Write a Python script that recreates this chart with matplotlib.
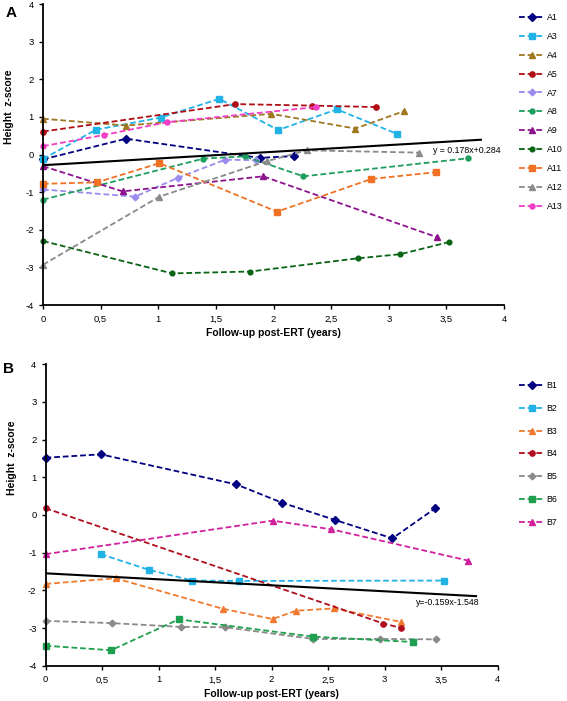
import matplotlib
matplotlib.use("Agg")
import matplotlib.pyplot as plt
import numpy as np

plt.rcParams['font.family'] = ['Liberation Sans', 'DejaVu Sans']

# ---------------- Panel A data ----------------
a_names = ["A1", "A3", "A4", "A5", "A7", "A8", "A9", "A10", "A11", "A12", "A13"]
a1_x = [0, 0.72, 1.88, 2.18];                 a1_y = [-0.13, 0.42, -0.09, -0.04]
a3_x = [0, 0.46, 1.02, 1.53, 2.04, 2.55, 3.07]; a3_y = [-0.12, 0.66, 0.98, 1.48, 0.65, 1.20, 0.55]
a4_x = [0, 0.72, 1.98, 2.71, 3.13];           a4_y = [0.95, 0.77, 1.08, 0.69, 1.15]
a5_x = [0, 1.67, 2.33, 2.89];                 a5_y = [0.61, 1.34, 1.30, 1.26]
a7_x = [0, 0.80, 1.17, 1.58, 1.85];           a7_y = [-0.93, -1.12, -0.62, -0.14, -0.15]
a8_x = [0, 1.39, 1.75, 2.26, 3.69];           a8_y = [-1.20, -0.11, -0.05, -0.58, -0.10]
a9_x = [0, 0.69, 1.91, 3.42];                 a9_y = [-0.31, -0.98, -0.58, -2.20]
a10_x = [0, 1.12, 1.80, 2.73, 3.10, 3.52];    a10_y = [-2.30, -3.16, -3.11, -2.76, -2.65, -2.33]
a11_x = [0, 0.47, 1.01, 2.03, 2.85, 3.41];    a11_y = [-0.78, -0.74, -0.23, -1.52, -0.65, -0.47]
a12_x = [0, 1.01, 1.94, 2.29, 3.26];          a12_y = [-2.93, -1.12, -0.18, 0.11, 0.05]
a13_x = [0, 0.53, 1.08, 2.37];                a13_y = [0.22, 0.52, 0.86, 1.26]
a_trend_x = [0, 3.8]
a_slope, a_intercept = 0.178, -0.284
a_eq = "y = 0.178x+0.284"

# ---------------- Panel B data ----------------
b_names = ["B1", "B2", "B3", "B4", "B5", "B6", "B7"]
b1_x = [0, 0.49, 1.69, 2.09, 2.56, 3.07, 3.45]; b1_y = [1.52, 1.61, 0.81, 0.33, -0.13, -0.62, 0.18]
b2_x = [0.49, 0.92, 1.30, 1.71, 3.53];          b2_y = [-1.04, -1.46, -1.74, -1.75, -1.74]
b3_x = [0, 0.62, 1.57, 2.01, 2.22, 2.55, 3.15]; b3_y = [-1.83, -1.68, -2.49, -2.76, -2.54, -2.48, -2.84]
b4_x = [0, 2.99, 3.15];                         b4_y = [0.18, -2.88, -3.00]
b5_x = [0, 0.59, 1.20, 1.59, 2.37, 2.96, 3.46]; b5_y = [-2.81, -2.87, -2.97, -2.98, -3.29, -3.29, -3.30]
b6_x = [0, 0.58, 1.18, 2.37, 3.25];             b6_y = [-3.47, -3.59, -2.77, -3.23, -3.37]
b7_x = [0, 2.01, 2.53, 3.74];                   b7_y = [-1.04, -0.15, -0.38, -1.21]
b_trend_x = [0, 3.81]
b_slope, b_intercept = -0.159, -1.548
b_eq = "y=-0.159x-1.548"

x_ticks = [0, 0.5, 1, 1.5, 2, 2.5, 3, 3.5, 4]
x_ticklabels = ["0", "0,5", "1", "1,5", "2", "2,5", "3", "3,5", "4"]
y_ticks = [-4, -3, -2, -1, 0, 1, 2, 3, 4]
y_ticklabels = ["-4", "-3", "-2", "-1", "0", "1", "2", "3", "4"]

a_series = [
    (a1_x, a1_y, "#000080", "D", 3.6),
    (a3_x, a3_y, "#22B2E6", "s", 3.8),
    (a4_x, a4_y, "#A07820", "^", 3.8),
    (a5_x, a5_y, "#B00E14", "o", 3.8),
    (a7_x, a7_y, "#9A8CEE", "D", 3.4),
    (a8_x, a8_y, "#1E9E5E", "o", 3.6),
    (a9_x, a9_y, "#8E128E", "^", 4.2),
    (a10_x, a10_y, "#0A6414", "o", 3.4),
    (a11_x, a11_y, "#F07224", "s", 3.8),
    (a12_x, a12_y, "#8A8A8A", "^", 3.8),
    (a13_x, a13_y, "#F23EC6", "o", 3.6),
]
b_series = [
    (b1_x, b1_y, "#000080", "D", 3.6),
    (b2_x, b2_y, "#22B2E6", "s", 3.8),
    (b3_x, b3_y, "#F07A30", "^", 3.8),
    (b4_x, b4_y, "#B00E1E", "o", 3.8),
    (b5_x, b5_y, "#8A8A8A", "D", 3.4),
    (b6_x, b6_y, "#1EA050", "s", 4.6),
    (b7_x, b7_y, "#D0209E", "^", 4.2),
]

fig = plt.figure(figsize=(5.67, 7.01), dpi=100)
W, H = 567, 701

def make_ax(left, right, top, bottom):
    return fig.add_axes([left / W, 1 - bottom / H, (right - left) / W, (bottom - top) / H])

axA = make_ax(43, 504, 4, 305)
axB = make_ax(45.5, 497.5, 364.3, 665.7)

def style(ax, label_y):
    ax.set_xlim(0, 4)
    ax.set_ylim(-4, 4)
    ax.set_xticks(x_ticks)
    ax.set_xticklabels(x_ticklabels)
    ax.set_yticks(y_ticks)
    ax.set_yticklabels(y_ticklabels)
    for s in ["top", "right"]:
        ax.spines[s].set_visible(False)
    for s in ["left", "bottom"]:
        ax.spines[s].set_linewidth(1.3)
    ax.tick_params(direction="out", length=3, width=1.0, labelsize=6.8, pad=4)
    ax.tick_params(axis="y", pad=3.5)
    ax.set_xlabel("Follow-up post-ERT (years)", fontsize=7.5, fontweight="bold", labelpad=3)
    ax.set_ylabel("Height  z-score", fontsize=7.5, fontweight="bold")
    ax.yaxis.set_label_coords(-0.062, label_y)

def draw(ax, series, names):
    handles = []
    for (x, y, c, m, ms), n in zip(series, names):
        ln, = ax.plot(x, y, color=c, lw=1.3, dashes=(3.2, 1.6), marker=m, ms=ms,
                      mec=c, mfc=c, label=n, clip_on=False)
        handles.append(ln)
    return handles

hA = draw(axA, a_series, a_names)
tx = np.array(a_trend_x)
axA.plot(tx, a_slope * tx + a_intercept, color="black", lw=1.5)
axA.text(3.38, 0.11, a_eq, fontsize=6.3, ha="left", va="center")
style(axA, 0.66)

hB = draw(axB, b_series, b_names)
tx = np.array(b_trend_x)
axB.plot(tx, b_slope * tx + b_intercept, color="black", lw=1.5)
axB.text(3.28, -2.33, b_eq, fontsize=6.3, ha="left", va="center")
style(axB, 0.69)

legA = fig.legend(handles=hA, labels=a_names, loc="upper left",
                  bbox_to_anchor=(519 / W, 1 - 13 / H), frameon=False, fontsize=6.3,
                  handlelength=2.9, handletextpad=0.25, labelspacing=1.13,
                  borderaxespad=0, borderpad=0)
legB = fig.legend(handles=hB, labels=b_names, loc="upper left",
                  bbox_to_anchor=(519 / W, 1 - 381 / H), frameon=False, fontsize=6.3,
                  handlelength=2.9, handletextpad=0.25, labelspacing=1.58,
                  borderaxespad=0, borderpad=0)

fig.text(11 / W, 1 - 13 / H, "A", fontsize=11, fontweight="bold", ha="center", va="center")
fig.text(8 / W, 1 - 369 / H, "B", fontsize=11, fontweight="bold", ha="center", va="center")

fig.savefig("out.png", dpi=100)
